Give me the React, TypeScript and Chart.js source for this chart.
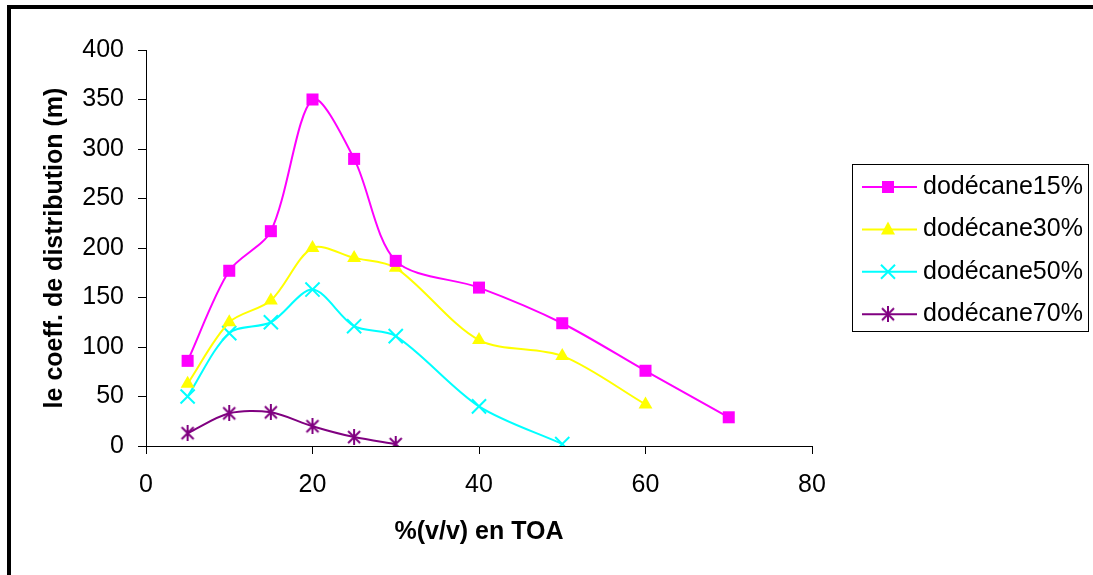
import React, { useEffect, useRef } from "react";
import { Chart, registerables } from "chart.js";

Chart.register(...registerables);

// ---- data ----
const xPercent = [5, 10, 15, 20, 25, 30, 40, 50, 60, 70];
const dodecane15 = [86, 177, 217, 350, 290, 187, 160, 124, 76, 29];
const dodecane30 = [63, 125, 147, 200, 190, 180, 107, 91, 42];
const dodecane50 = [50, 114, 125, 158, 121, 111, 40, 2];
const dodecane70 = [13, 33, 34, 20, 9, 2];
const seriesNames = ["dodécane15%", "dodécane30%", "dodécane50%", "dodécane70%"];
const seriesColors = ["#FF00FF", "#FFFF00", "#00FFFF", "#800080"];
const xAxisTitle = "%(v/v) en TOA";
const yAxisTitle = "le coeff. de distribution (m)";

const FONT = "'Liberation Sans', Arial, sans-serif";

function makeStar(color: string): HTMLCanvasElement {
  const c = document.createElement("canvas");
  c.width = 16;
  c.height = 16;
  const g = c.getContext("2d")!;
  g.strokeStyle = color;
  g.lineWidth = 2;
  g.beginPath();
  g.moveTo(2, 2);
  g.lineTo(14, 14);
  g.moveTo(14, 2);
  g.lineTo(2, 14);
  g.moveTo(8, 0);
  g.lineTo(8, 16);
  g.stroke();
  return c;
}

function toPoints(vals: number[]) {
  return vals.map((v, i) => ({ x: xPercent[i], y: v }));
}

function drawMarker(ctx: CanvasRenderingContext2D, kind: number, x: number, y: number, color: string, star: HTMLCanvasElement) {
  ctx.save();
  ctx.fillStyle = color;
  ctx.strokeStyle = color;
  ctx.lineWidth = 2;
  if (kind === 0) {
    ctx.fillRect(x - 6, y - 6, 12, 12);
  } else if (kind === 1) {
    ctx.beginPath();
    ctx.moveTo(x, y - 8);
    ctx.lineTo(x + 7, y + 5);
    ctx.lineTo(x - 7, y + 5);
    ctx.closePath();
    ctx.fill();
  } else if (kind === 2) {
    ctx.beginPath();
    ctx.moveTo(x - 7, y - 7);
    ctx.lineTo(x + 7, y + 7);
    ctx.moveTo(x + 7, y - 7);
    ctx.lineTo(x - 7, y + 7);
    ctx.stroke();
  } else {
    ctx.drawImage(star, x - 8, y - 8);
  }
  ctx.restore();
}

export default function App() {
  const ref = useRef<HTMLCanvasElement | null>(null);

  useEffect(() => {
    if (!ref.current) return;
    const star = makeStar(seriesColors[3]);

    const framePlugin = {
      id: "frame",
      beforeDraw(chart: any) {
        const ctx = chart.ctx as CanvasRenderingContext2D;
        ctx.save();
        ctx.fillStyle = "#000";
        ctx.fillRect(7, 5, 1093, 4);
        ctx.fillRect(7, 5, 4, 575);
        ctx.restore();
      },
    };

    const legendPlugin = {
      id: "boxLegend",
      afterDraw(chart: any) {
        const ctx = chart.ctx as CanvasRenderingContext2D;
        ctx.save();
        ctx.strokeStyle = "#000";
        ctx.lineWidth = 1;
        ctx.strokeRect(852.5, 164.5, 236, 167);
        seriesNames.forEach((name, i) => {
          const y = 187 + i * 42.4;
          ctx.strokeStyle = seriesColors[i];
          ctx.lineWidth = 2;
          ctx.beginPath();
          ctx.moveTo(862, y);
          ctx.lineTo(917, y);
          ctx.stroke();
          drawMarker(ctx, i, 888, y, seriesColors[i], star);
          ctx.fillStyle = "#000";
          ctx.font = `25px ${FONT}`;
          ctx.textAlign = "left";
          ctx.textBaseline = "middle";
          ctx.fillText(name, 923, y);
        });
        ctx.restore();
      },
    };

    const common = { borderWidth: 2, tension: 0.3, fill: false };
    const chart = new Chart(ref.current, {
      type: "line",
      data: {
        datasets: [
          {
            ...common,
            label: seriesNames[0],
            data: toPoints(dodecane15),
            borderColor: seriesColors[0],
            backgroundColor: seriesColors[0],
            pointStyle: "rect",
            pointRadius: 8.5,
            pointBorderWidth: 0,
          },
          {
            ...common,
            label: seriesNames[1],
            data: toPoints(dodecane30),
            borderColor: seriesColors[1],
            backgroundColor: seriesColors[1],
            pointStyle: "triangle",
            pointRadius: 8,
            pointBorderWidth: 0,
          },
          {
            ...common,
            label: seriesNames[2],
            data: toPoints(dodecane50),
            borderColor: seriesColors[2],
            backgroundColor: seriesColors[2],
            pointStyle: "crossRot",
            pointRadius: 10,
            pointBorderWidth: 2,
          },
          {
            ...common,
            label: seriesNames[3],
            data: toPoints(dodecane70),
            borderColor: seriesColors[3],
            backgroundColor: seriesColors[3],
            pointStyle: star as any,
            pointRadius: 8,
          },
        ],
      },
      options: {
        animation: false,
        responsive: false,
        maintainAspectRatio: false,
        layout: { padding: { left: 0, top: 50, right: 281, bottom: 0 } },
        plugins: { legend: { display: false }, tooltip: { enabled: false } },
        scales: {
          x: {
            type: "linear",
            min: 0,
            max: 80,
            afterFit(scale: any) {
              scale.height = 129;
            },
            ticks: {
              stepSize: 20,
              color: "#000",
              font: { family: FONT, size: 25 },
              padding: 16,
              maxRotation: 0,
            },
            grid: {
              display: true,
              drawOnChartArea: false,
              drawTicks: true,
              tickLength: 8,
              color: "#000",
            },
            border: { display: true, color: "#000", width: 1 },
            title: {
              display: true,
              text: xAxisTitle,
              color: "#000",
              font: { family: FONT, size: 25, weight: "bold" },
              padding: { top: 0, bottom: 28 },
            },
          },
          y: {
            type: "linear",
            min: 0,
            max: 400,
            afterFit(scale: any) {
              scale.width = 146;
            },
            ticks: {
              stepSize: 50,
              color: "#000",
              font: { family: FONT, size: 25 },
              padding: 14,
            },
            grid: {
              display: true,
              drawOnChartArea: false,
              drawTicks: true,
              tickLength: 8,
              color: "#000",
            },
            border: { display: true, color: "#000", width: 1 },
            title: {
              display: true,
              text: yAxisTitle,
              color: "#000",
              font: { family: FONT, size: 25, weight: "bold" },
              padding: { top: 40, bottom: 0 },
            },
          },
        },
      },
      plugins: [framePlugin, legendPlugin],
    } as any);
    return () => chart.destroy();
  }, []);

  return (
    <div style={{ position: "fixed", left: 0, top: 0, width: 1093, height: 575, background: "#fff" }}>
      <canvas ref={ref} width={1093} height={575} style={{ width: 1093, height: 575, display: "block" }} />
    </div>
  );
}
